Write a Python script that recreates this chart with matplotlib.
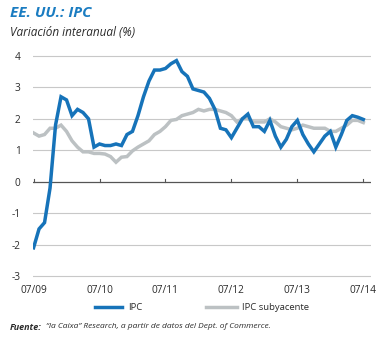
"""EE. UU.: IPC - variación interanual, IPC general vs subyacente."""
import matplotlib
matplotlib.use('Agg')
import matplotlib.pyplot as plt

# Datos mensuales jul-2009 .. jul-2014 (%)
ipc = [-2.1, -1.5, -1.3, -0.2, 1.8, 2.7,
       2.6, 2.1, 2.3, 2.2, 2.0, 1.1, 1.2, 1.15, 1.15, 1.2, 1.15, 1.5,
       1.6, 2.1, 2.7, 3.2, 3.55, 3.55, 3.6, 3.75, 3.85, 3.5, 3.35, 2.95,
       2.9, 2.85, 2.65, 2.3, 1.7, 1.65, 1.4, 1.7, 2.0, 2.15, 1.75, 1.75,
       1.6, 1.95, 1.45, 1.1, 1.35, 1.75, 1.95, 1.5, 1.2, 0.95, 1.2, 1.45,
       1.6, 1.1, 1.5, 1.95, 2.1, 2.05, 1.98]
subyacente = [1.55, 1.45, 1.5, 1.7, 1.7, 1.8,
              1.6, 1.3, 1.1, 0.95, 0.95, 0.9, 0.9, 0.88, 0.8, 0.62, 0.78, 0.8,
              0.98, 1.1, 1.2, 1.3, 1.5, 1.6, 1.75, 1.95, 1.98, 2.1, 2.15, 2.2,
              2.3, 2.25, 2.3, 2.3, 2.25, 2.2, 2.1, 1.9, 2.0, 2.0, 1.9, 1.9,
              1.9, 2.0, 1.9, 1.75, 1.7, 1.65, 1.7, 1.8, 1.75, 1.7, 1.7, 1.7,
              1.6, 1.6, 1.7, 1.8, 1.95, 1.95, 1.88]
xtick_labels = ['07/09', '07/10', '07/11', '07/12', '07/13', '07/14']
yticks = [-3, -2, -1, 0, 1, 2, 3, 4]

BLUE = '#1673b9'
GREY = '#bcc1c3'
TXT = '#2b2b2b'

plt.rcParams['font.family'] = ['Open Sans', 'DejaVu Sans']

W, H = 389, 338
fig = plt.figure(figsize=(W / 100, H / 100), dpi=100)
fig.patch.set_facecolor('white')

# axes en coordenadas de píxel
x0, x1 = 33, 371
ytop, ybot = 54, 278
ax = fig.add_axes([x0 / W, 1 - ybot / H, (x1 - x0) / W, (ybot - ytop) / H])

x = list(range(len(ipc)))
ax.plot(x, subyacente, color=GREY, lw=2.5, solid_joinstyle='miter', zorder=3)
ax.plot(x, ipc, color=BLUE, lw=2.5, solid_joinstyle='miter', zorder=4)

ax.set_xlim(-0.1, 61.4)
ax.set_ylim(-3.06, 4.06)
for s in ax.spines.values():
    s.set_visible(False)
for v in yticks:
    if v != 0:
        ax.axhline(v, color='#c8c8c8', lw=0.8, zorder=1)
ax.axhline(0, color='#555555', lw=0.9, zorder=2)
xt = [0, 12, 24, 36, 48, 60]
for t in xt:
    ax.plot([t, t], [0, 0.1], color='#555555', lw=0.8, zorder=2)

ax.set_yticks(yticks)
ax.set_yticklabels([str(v) for v in yticks])
ax.tick_params(axis='y', length=0, pad=9, labelsize=7.3, labelcolor=TXT)
ax.set_xticks(xt)
ax.set_xticklabels(xtick_labels)
ax.tick_params(axis='x', length=0, pad=5, labelsize=7.3, labelcolor=TXT)

# títulos
fig.text(10 / W, 1 - 13 / H, 'EE. UU.: IPC', color='#1a7cc1', fontsize=11,
         fontweight='bold', fontstyle='italic', va='center', ha='left')
fig.text(10 / W, 1 - 33 / H, 'Variación interanual (%)', color=TXT, fontsize=8.5,
         fontstyle='italic', va='center', ha='left')

# leyenda
ly = 1 - 307 / H
fig.add_artist(plt.Line2D([95 / W, 122 / W], [ly, ly], color=BLUE, lw=2.5))
fig.text(128 / W, ly, 'IPC', fontsize=6.8, color=TXT, va='center', ha='left')
fig.add_artist(plt.Line2D([206 / W, 237 / W], [ly, ly], color=GREY, lw=2.5))
fig.text(242 / W, ly, 'IPC subyacente', fontsize=6.8, color=TXT, va='center', ha='left')

# fuente
fy = 1 - 327 / H
fig.text(10 / W, fy, 'Fuente:', fontsize=6.5, fontweight='bold', fontstyle='italic',
         color=TXT, va='center', ha='left')
fig.text(46 / W, fy, '“la Caixa” Research, a partir de datos del Dept. of Commerce.',
         fontsize=6, fontstyle='italic', color=TXT, va='center', ha='left')

fig.savefig('out.png', dpi=100)
